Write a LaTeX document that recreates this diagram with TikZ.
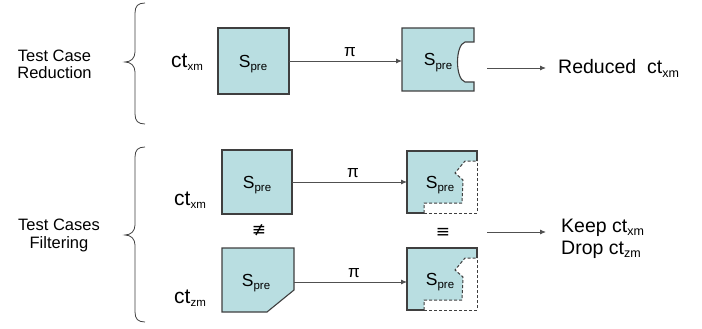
\documentclass[tikz,border=0pt]{standalone}
\usepackage{fontspec}
\setmainfont{Liberation Sans}
\newfontfamily\dvsans{DejaVu Sans}
\usetikzlibrary{arrows.meta}
\definecolor{boxfill}{HTML}{B9DEE1}
\definecolor{boxline}{HTML}{3F3F3F}
\definecolor{arrline}{HTML}{505050}
\newcommand\sprelabel{{\fontsize{17.5}{17.5}\selectfont S}\raisebox{-3.5pt}{\fontsize{11.5}{11.5}\selectfont pre}}
\newcommand\ctleft[1]{{\fontsize{21}{21}\selectfont ct}\raisebox{-3pt}{\fontsize{11.5}{11.5}\selectfont #1}}
\newcommand\ctright[1]{ct\raisebox{-3.5pt}{\fontsize{12.5}{12.5}\selectfont #1}}
\newcommand\cutboxshape{%
  \path[fill=boxfill] (407,151) -- (477,151) -- (477,161) -- (465,161) -- (455,173) -- (463,180) -- (462,203) -- (424,203) -- (424,213) -- (407,213) -- cycle;
  \draw[edgeline] (477,161) -- (477,151) -- (407,151) -- (407,213) -- (424,213);
  \draw[cutline] (424,213) -- (424,203) -- (462,203) -- (463,180) -- (455,173) -- (465,161) -- (477,161);
  \draw[cutline] (424,213) -- (477,213) -- (477,161);
}
\begin{document}
\begin{tikzpicture}[x=1pt,y=-1pt,
  solidbox/.style={draw=boxline, line width=1.1pt, fill=boxfill, inner sep=0pt, outer sep=0pt},
  ghost/.style={draw=none, inner sep=0pt, outer sep=0pt},
  outline/.style={draw=boxline, line width=1.1pt, fill=boxfill},
  edgeline/.style={draw=boxline, line width=1.1pt},
  cutline/.style={draw=boxline, line width=1pt, dash pattern=on 3pt off 2pt},
  conn/.style={draw=arrline, line width=0.9pt, -{Latex[length=6pt,width=5pt]}},
  brace/.style={draw=boxline, line width=0.8pt},
  spretext/.style={inner sep=0pt, anchor=base},
  pitext/.style={font=\fontsize{17}{17}\selectfont, inner sep=0pt, above=4pt},
  lefttext/.style={font=\fontsize{16.5}{17.5}\selectfont, align=center, inner sep=0pt},
  righttext/.style={font=\fontsize{19.5}{19.5}\selectfont, inner sep=0pt, anchor=base west},
  symtext/.style={font=\dvsans\fontsize{17}{17}\selectfont, inner sep=0pt}
]
\useasboundingbox (0,0) rectangle (702,329);

% braces
\draw[brace] (145,3) .. controls (138,3) and (135,6) .. (135,13) -- (135,52)
  .. controls (135,58) and (131,62) .. (125,62) .. controls (131,62) and (135,66) .. (135,72)
  -- (135,114) .. controls (135,121) and (138,124) .. (145,124);
\draw[brace] (145,147) .. controls (138,147) and (135,150) .. (135,157) -- (135,225)
  .. controls (135,231) and (131,235) .. (125,235) .. controls (131,235) and (135,239) .. (135,245)
  -- (135,312) .. controls (135,319) and (138,322) .. (145,322);

% left labels
\node[lefttext] (lab1) at (54.5,64.5) {Test Case\\Reduction};
\node[lefttext] (lab2) at (59,235.5) {Test Cases\\Filtering};

% ct labels
\node[spretext] (ct1) at (187,68) {\ctleft{xm}};
\node[spretext] (ct2) at (190,205) {\ctleft{xm}};
\node[spretext] (ct3) at (190,303) {\ctleft{zm}};

% top row boxes
\node[solidbox, minimum width=71pt, minimum height=66pt] (b1) at (253.5,61) {};
\node[spretext] (s1) at (253,67) {\sprelabel};
\path[outline] (402,28) -- (474,28) -- (474,42) -- (465,42) .. controls (455,45) and (455,79) .. (465,82) -- (474,82) -- (474,91) -- (402,91) -- cycle;
\node[ghost, minimum width=72pt, minimum height=63pt] (b2) at (438,61) {};
\node[spretext] (s2) at (438,66) {\sprelabel};

% bottom boxes
\node[solidbox, minimum width=70pt, minimum height=64pt] (b3) at (257,182) {};
\node[spretext] (s3) at (257,188) {\sprelabel};
\path[outline] (222,248) -- (294,248) -- (294,290) -- (267,312) -- (222,312) -- cycle;
\node[ghost, minimum width=72pt, minimum height=64pt] (b4) at (258,282) {};
\node[spretext] (s4) at (256,286) {\sprelabel};

\cutboxshape
\node[ghost, minimum width=70pt, minimum height=62pt] (b5) at (442,182) {};
\node[spretext] (s5) at (440,188) {\sprelabel};
\begin{scope}[shift={(0,97)}]
\cutboxshape
\end{scope}
\node[ghost, minimum width=70pt, minimum height=62pt] (b6) at (442,282) {};
\node[spretext] (s6) at (440,285) {\sprelabel};

% arrows
\draw[conn] (b1.east) -- (b1.east -| b2.west) node[pitext, pos=0.54] (pi1) {π};
\draw[conn] (b3.east) -- (b3.east -| b5.west) node[pitext, pos=0.53] (pi2) {π};
\draw[conn] (b4.east) -- (b4.east -| b6.west) node[pitext, pos=0.53] (pi3) {π};

% symbols
\node[symtext] (neq) at (259,230) {≢};
\node[symtext] (eqv) at (443,233) {≡};

% right arrows and texts
\coordinate (r1s) at (487,68);
\coordinate (r1e) at (546,68);
\draw[conn] (r1s) -- (r1e);
\node[righttext] (red) at (558,74) {Reduced\hspace{11pt}\ctright{xm}};
\coordinate (r2s) at (487,232);
\coordinate (r2e) at (546,232);
\draw[conn] (r2s) -- (r2e);
\node[righttext] (keep) at (561,232) {Keep \ctright{xm}};
\node[righttext] (drop) at (561,254) {Drop \ctright{zm}};
\end{tikzpicture}
\end{document}
